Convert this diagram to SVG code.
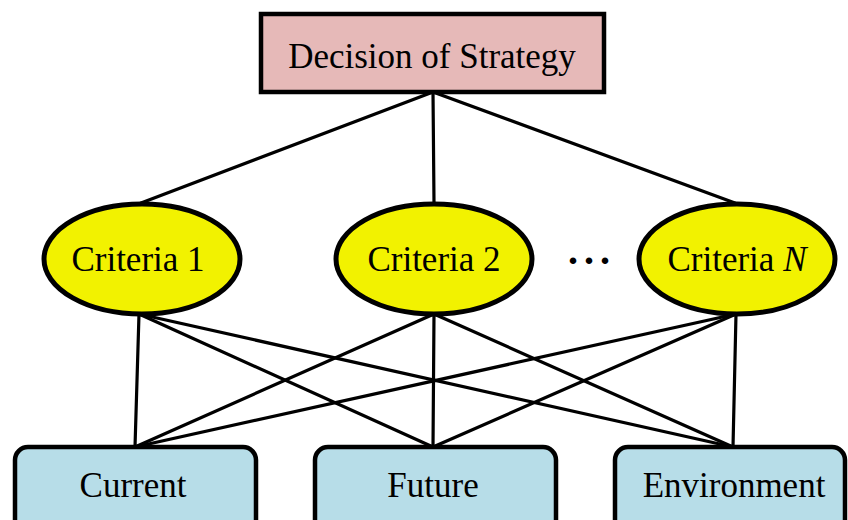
<svg xmlns="http://www.w3.org/2000/svg" width="848" height="520" viewBox="0 0 848 520">
  <style>
    .lbl { font-family: "Liberation Serif", "Times New Roman", serif; font-size: 35px; fill: #000; text-anchor: middle; }
    .dots { font-size: 40px; font-weight: bold; letter-spacing: 6px; }
    .goal { fill: #E6B9B8; stroke: #000; stroke-width: 4.5; }
    .crit { fill: #F2F200; stroke: #000; stroke-width: 5; }
    .alt { fill: #B7DDE8; stroke: #000; stroke-width: 4.5; }
    .edge { stroke: #000; stroke-width: 3.2; fill: none; stroke-linecap: round; }
  </style>
  <rect width="848" height="520" fill="#fff"/>

  <g id="connectors">
    <!-- goal to criteria -->
    <line class="edge" x1="433" y1="92" x2="141" y2="203"/>
    <line class="edge" x1="433" y1="92" x2="434" y2="203"/>
    <line class="edge" x1="433" y1="92" x2="735" y2="203"/>
    <!-- criteria to alternatives -->
    <line class="edge" x1="139" y1="314" x2="135" y2="447"/>
    <line class="edge" x1="139" y1="314" x2="433" y2="447"/>
    <line class="edge" x1="139" y1="314" x2="733" y2="447"/>
    <line class="edge" x1="434" y1="314" x2="135" y2="447"/>
    <line class="edge" x1="434" y1="314" x2="433" y2="447"/>
    <line class="edge" x1="434" y1="314" x2="733" y2="447"/>
    <line class="edge" x1="736" y1="314" x2="135" y2="447"/>
    <line class="edge" x1="736" y1="314" x2="433" y2="447"/>
    <line class="edge" x1="736" y1="314" x2="733" y2="447"/>
  </g>

  <g id="decision">
    <rect class="goal" x="261" y="14" width="343" height="78"/>
    <text class="lbl" x="432" y="68">Decision of Strategy</text>
  </g>

  <g id="criteria-1">
    <ellipse class="crit" cx="142" cy="259" rx="98" ry="55"/>
    <text class="lbl" x="138" y="271">Criteria 1</text>
  </g>

  <g id="criteria-2">
    <ellipse class="crit" cx="434" cy="259" rx="98" ry="55"/>
    <text class="lbl" x="434" y="271">Criteria 2</text>
  </g>

  <g id="ellipsis">
    <text class="lbl dots" x="592" y="264">...</text>
  </g>

  <g id="criteria-n">
    <ellipse class="crit" cx="737" cy="259" rx="98" ry="55"/>
    <text class="lbl" x="737" y="271">Criteria <tspan font-style="italic">N</tspan></text>
  </g>

  <g id="current">
    <rect class="alt" x="15" y="447" width="241" height="100" rx="13"/>
    <text class="lbl" x="133" y="497">Current</text>
  </g>

  <g id="future">
    <rect class="alt" x="315" y="447" width="241" height="100" rx="13"/>
    <text class="lbl" x="433" y="497">Future</text>
  </g>

  <g id="environment">
    <rect class="alt" x="615" y="447" width="230" height="100" rx="13"/>
    <text class="lbl" x="734" y="497">Environment</text>
  </g>
</svg>
